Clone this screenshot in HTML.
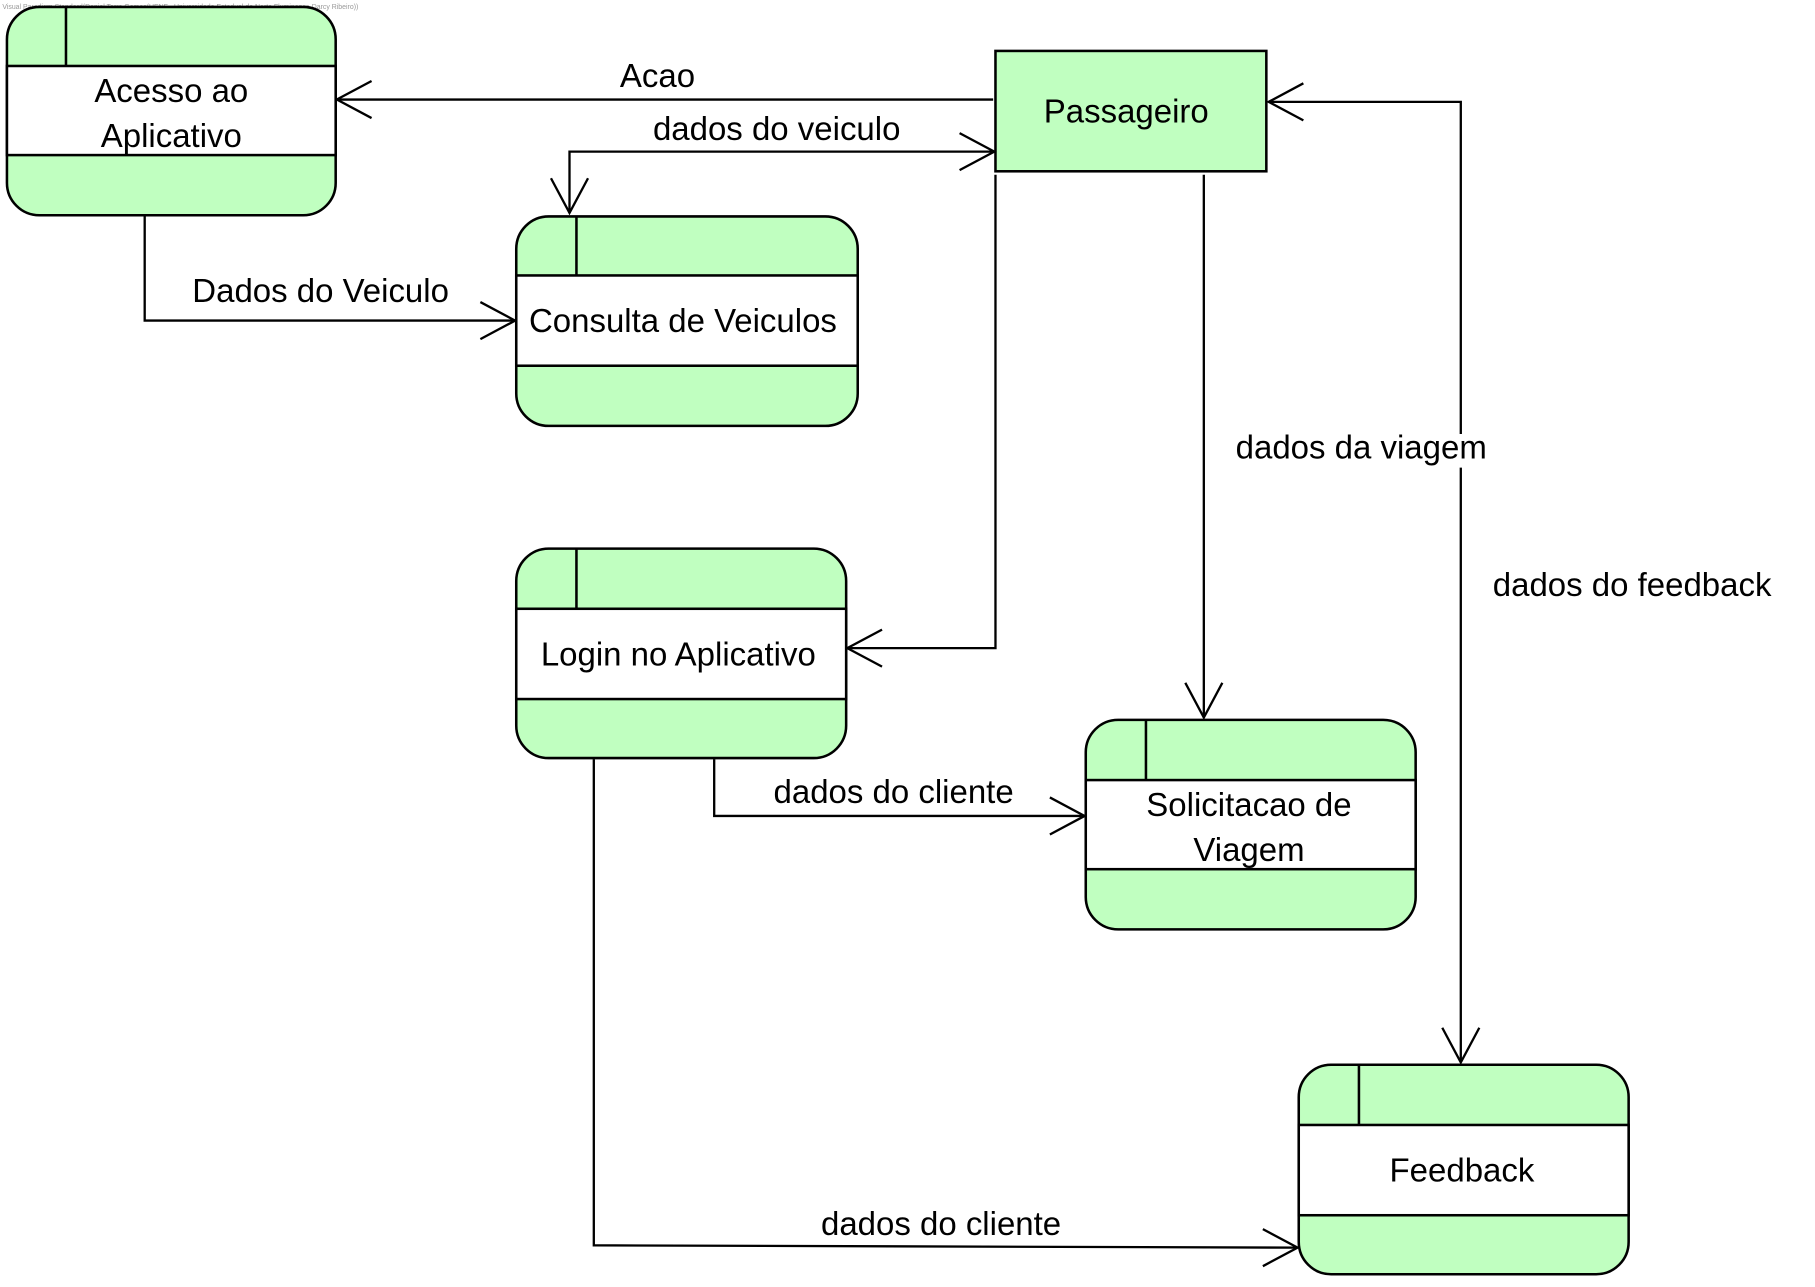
<!DOCTYPE html>
<html><head><meta charset="utf-8"><style>
html,body{margin:0;padding:0;background:#fff;width:1815px;height:1287px;overflow:hidden}
svg{display:block}
text{font-family:"Liberation Sans",Arial,sans-serif;fill:#000}
</style></head><body>
<svg width="1815" height="1287" viewBox="0 0 1568 1112" preserveAspectRatio="none" xmlns="http://www.w3.org/2000/svg">
<text x="2" y="8" font-size="6" style="fill:#999">Visual Paradigm Standard(Daniel Terra Gomes(UENF - Universidade Estadual do Norte Fluminense Darcy Ribeiro))</text>
<g stroke="#000" stroke-width="2.2" fill="#c0ffc0">
<rect x="6" y="6" width="284" height="180" rx="28"/>
<rect x="6" y="57" width="284" height="77" fill="#fff"/>
<line x1="57" y1="6" x2="57" y2="57"/>
<rect x="446" y="187" width="295" height="181" rx="28"/>
<rect x="446" y="238" width="295" height="78" fill="#fff"/>
<line x1="498" y1="187" x2="498" y2="238"/>
<rect x="446" y="474" width="285" height="181" rx="28"/>
<rect x="446" y="526" width="285" height="78" fill="#fff"/>
<line x1="498" y1="474" x2="498" y2="526"/>
<rect x="938" y="622" width="285" height="181" rx="28"/>
<rect x="938" y="674" width="285" height="77" fill="#fff"/>
<line x1="990" y1="622" x2="990" y2="674"/>
<rect x="1122" y="920" width="285" height="181" rx="28"/>
<rect x="1122" y="972" width="285" height="78" fill="#fff"/>
<line x1="1174" y1="920" x2="1174" y2="972"/>
<rect x="860" y="44" width="234" height="104"/>
</g>
<g stroke="#000" stroke-width="2" fill="none">
<line x1="858" y1="86" x2="291" y2="86"/>
<polyline points="321,70 291,86 321,102"/>
<polyline points="492,184 492,131 859,131"/>
<polyline points="829,115 859,131 829,147"/>
<polyline points="476,154 492,184 508,154"/>
<polyline points="125,187 125,277 445,277"/>
<polyline points="415,261 445,277 415,293"/>
<polyline points="860,151 860,560 732,560"/>
<polyline points="762,544 732,560 762,576"/>
<line x1="1040" y1="151" x2="1040" y2="620"/>
<polyline points="1024,590 1040,620 1056,590"/>
<polyline points="1262,375 1262,88 1096,88"/>
<polyline points="1126,72 1096,88 1126,104"/>
<line x1="1262" y1="404" x2="1262" y2="918"/>
<polyline points="1246,888 1262,918 1278,888"/>
<polyline points="617,656 617,705 937,705"/>
<polyline points="907,689 937,705 907,721"/>
<polyline points="513,656 513,1076 1121,1078"/>
<polyline points="1091,1062 1121,1078 1091,1094"/>
</g>
<g font-size="28.5" text-anchor="middle">
<text x="148" y="88">Acesso ao</text>
<text x="148" y="127">Aplicativo</text>
<text x="590" y="287">Consulta de Veiculos</text>
<text x="586" y="575">Login no Aplicativo</text>
<text x="1079" y="705">Solicitacao de</text>
<text x="1079" y="744">Viagem</text>
<text x="1263" y="1021">Feedback</text>
<text x="973" y="106">Passageiro</text>
<text x="568" y="75">Acao</text>
<text x="671" y="121">dados do veiculo</text>
<text x="277" y="261">Dados do Veiculo</text>
<text x="1176" y="396">dados da viagem</text>
<text x="1410" y="515">dados do feedback</text>
<text x="772" y="694">dados do cliente</text>
<text x="813" y="1067">dados do cliente</text>
</g>
</svg>
</body></html>
